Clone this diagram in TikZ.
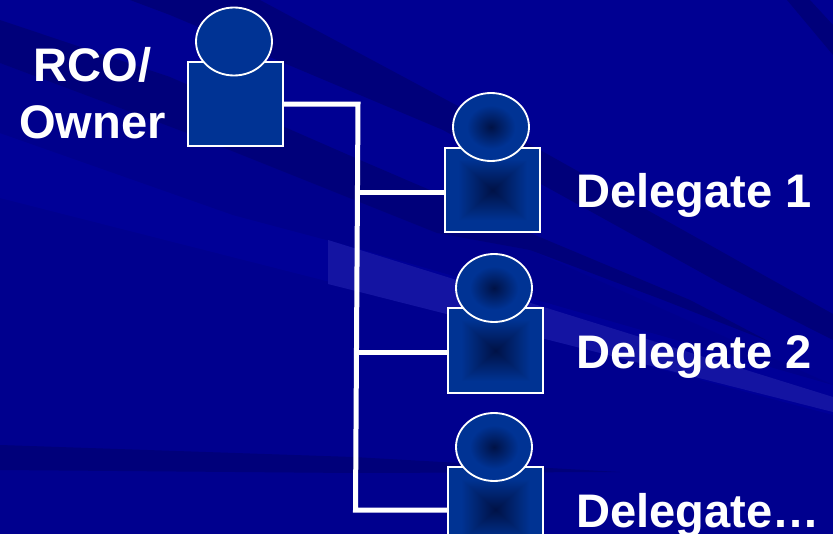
\documentclass[tikz,border=0pt]{standalone}
\usepackage{fontspec}
\setmainfont{Liberation Sans}
\usetikzlibrary{shapes.geometric}
\definecolor{slidebg}{RGB}{0,0,146}
\definecolor{banddark}{RGB}{0,0,122}
\definecolor{bandmid}{RGB}{0,0,140}
\definecolor{bandlow}{RGB}{0,0,142}
\definecolor{bandbright}{RGB}{0,0,151}
\definecolor{bandlight}{RGB}{20,20,162}
\definecolor{figfill}{RGB}{0,51,148}
\definecolor{figdark}{RGB}{0,18,70}
\pgfdeclarefunctionalshading{bodyshade}{\pgfpoint{-25bp}{-25bp}}{\pgfpoint{25bp}{25bp}}{}{
 abs exch abs 2 copy lt {exch} if pop 25 div 0.72 div dup 1 gt {pop 1} if
 0 exch dup 0.13 mul 0.07 add exch 0.3 mul 0.275 add
}
\pgfdeclareradialshading{headshade}{\pgfpointorigin}{color(0bp)=(figdark); color(16bp)=(figfill); color(50bp)=(figfill)}
\tikzset{
         bodybox/.style={draw=white,line width=1.05pt,rectangle,inner sep=0pt,minimum width=1.9cm,minimum height=1.69cm},
         headball/.style={draw=white,line width=1.05pt,ellipse,inner sep=0pt,minimum width=1.52cm,minimum height=1.36cm},
         plainfig/.style={fill=figfill},
         shadebody/.style={shading=bodyshade},
         shadehead/.style={shading=headshade},
         wire/.style={draw=white,line width=0.1cm},
         figlabel/.style={text=white,font=\fontsize{26.8}{33}\selectfont\bfseries,inner sep=0pt}
        }

\begin{document}
\begin{tikzpicture}[x=0.02cm,y=-0.02cm]
\useasboundingbox (0,0) rectangle (833,534);
\clip (0,0) rectangle (833,534);
\fill[slidebg] (0,0) rectangle (833,534); % background
\fill[bandlow] (0,198)--(350,287)--(833,415)--(833,534)--(0,534)--cycle; % lower field
\fill[bandbright] (0,133)--(233,215)--(353,247)--(833,385)--(833,415)--(350,287)--(0,198)--cycle; % bright strip
\fill[bandmid] (0,63)--(187,133)--(437,233)--(530,250)--(833,385)--(353,247)--(233,215)--(0,133)--cycle; % mid strip
\fill[banddark] (0,20)--(170,77)--(360,160)--(530,233)--(690,300)--(770,342)--(663,300)--(530,250)--(437,233)--(187,133)--(0,63)--cycle; % dark band 2
\fill[banddark] (130,0)--(260,0)--(540,150)--(833,314)--(833,340)--(720,283)--(570,200)--(443,130)--(170,15)--cycle; % dark band 1
\fill[banddark] (810,0)--(833,25)--(833,55)--(787,0)--cycle; % dark band top right
\fill[bandlight] (328,240)--(833,397)--(833,412)--(340,287)--(328,284)--cycle; % light band
\fill[banddark] (0,445)--(353,457)--(620,472)--(353,473)--(0,470)--cycle; % low band
\node[bodybox,plainfig] (ownerbody) at (235.5,104) {}; % owner body
\node[headball,plainfig] (ownerhead) at (234,41.5) {}; % owner head
\node[bodybox,shadebody] (dlgbody1) at (492.5,190) {}; % delegate 1 body
\node[headball,shadehead] (dlghead1) at (491,127) {}; % delegate 1 head
\node[bodybox,shadebody] (dlgbody2) at (495.5,350.5) {}; % delegate 2 body
\node[headball,shadehead] (dlghead2) at (494,288) {}; % delegate 2 head
\node[bodybox,shadebody] (dlgbody3) at (495.5,509.5) {}; % delegate 3 body
\node[headball,shadehead] (dlghead3) at (494,447) {}; % delegate 3 head
\node[figlabel,anchor=base] (ownerlabel) at (92.5,81) {RCO/}; % owner label
\node[figlabel,anchor=base] (ownerlabel2) at (92.5,138.5) {Owner}; % owner label
\node[figlabel,anchor=base west] (dlglabel1) at (576,207.5) {Delegate 1}; % delegate 1 label
\node[figlabel,anchor=base west] (dlglabel2) at (576,368) {Delegate 2}; % delegate 2 label
\node[figlabel,anchor=base west] (dlglabel3) at (576,527) {Delegate…}; % delegate 3 label
\coordinate (trunktop) at (358,104); % trunk corner
\coordinate (trunkone) at (358,192.5); % branch 1
\coordinate (trunktwo) at (357,352.4); % branch 2
\coordinate (trunkend) at (355.5,510); % trunk corner
\draw[wire,line join=miter] (ownerbody.east |- trunktop)--(trunktop)--(trunkend)--(dlgbody3.west |- trunkend); % Wiring
\draw[wire] (trunkone)--(dlgbody1.west |- trunkone); % Wiring
\draw[wire] (trunktwo)--(dlgbody2.west |- trunktwo); % Wiring
\end{tikzpicture}
\end{document}
